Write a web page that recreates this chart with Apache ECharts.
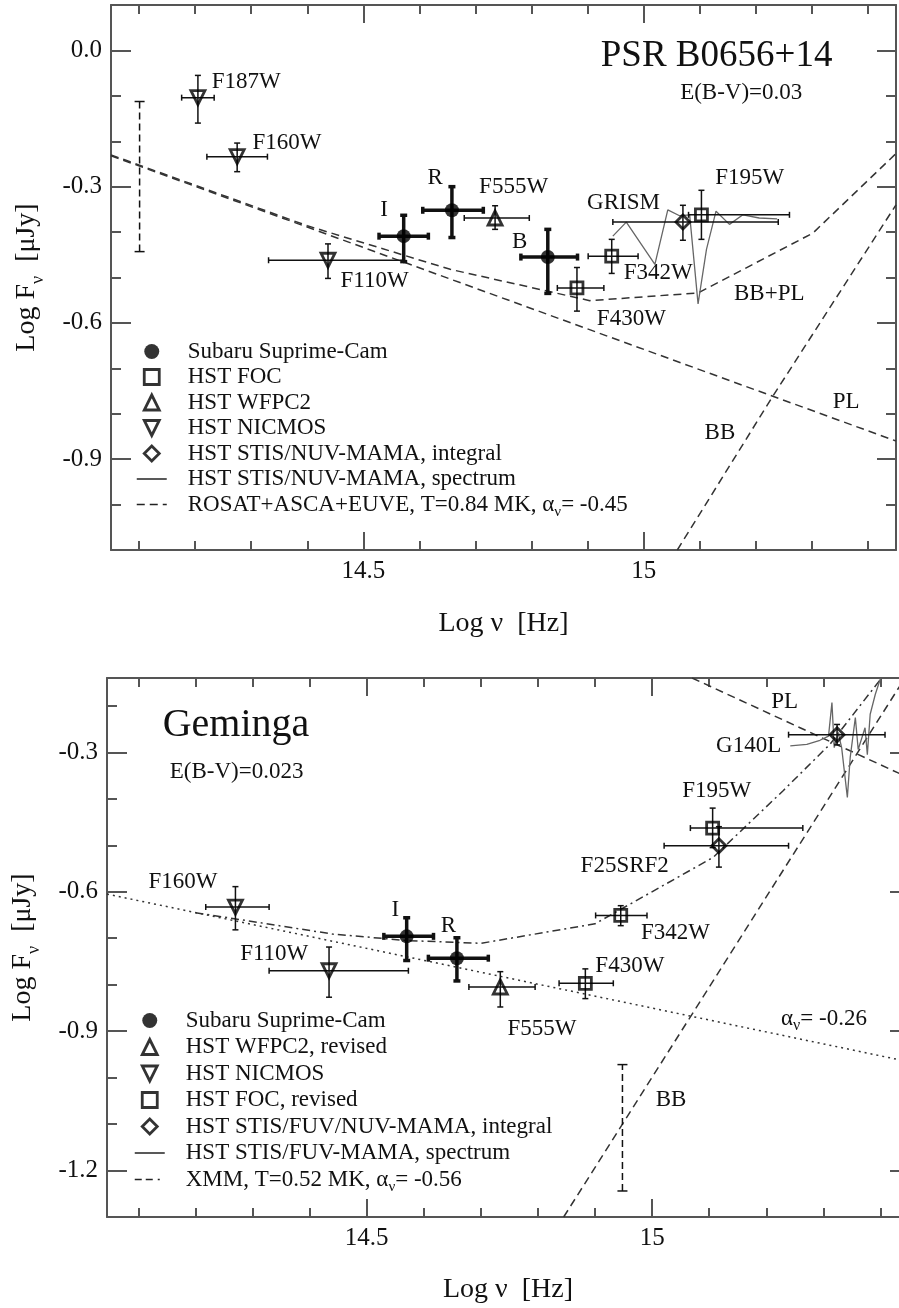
<!DOCTYPE html>
<html><head><meta charset="utf-8">
<script src="https://cdn.jsdelivr.net/npm/echarts@6/dist/echarts.min.js"></script>
<style>html,body{margin:0;padding:0;background:#fff}#c{width:899px;height:1308px}</style>
</head><body><div id="c"></div>
<script>
const FONT = '"Liberation Serif","Times New Roman",serif';

// ---------- axes / ticks ----------
const psrXRange = [14.05, 15.45];
const gemXRange = [14.045, 15.45];
const xMinorTicks = [14.1,14.2,14.3,14.4,14.5,14.6,14.7,14.8,14.9,15.0,15.1,15.2,15.3,15.4];
const xMajorTicks = [14.5, 15.0];
const xTickLabels = ['14.5', '15'];

const psrYRange = [-1.1, 0.1];
const psrYMinor = [-1.0,-0.9,-0.8,-0.7,-0.6,-0.5,-0.4,-0.3,-0.2,-0.1,0.0];
const psrYMajor = [-0.9,-0.6,-0.3,0.0];
const psrYLabels = ['-0.9','-0.6','-0.3','0.0'];

const gemYRange = [-1.3, -0.14];
const gemYMinor = [-1.2,-1.1,-1.0,-0.9,-0.8,-0.7,-0.6,-0.5,-0.4,-0.3,-0.2];
const gemYMajor = [-1.2,-0.9,-0.6,-0.3];
const gemYLabels = ['-1.2','-0.9','-0.6','-0.3'];

// ---------- PSR B0656+14 data: [x, y, xlo, xhi, ylo, yhi] ----------
const psrSubaru = [[14.572,-0.409,14.528,14.616,-0.465,-0.363],
                   [14.658,-0.352,14.606,14.714,-0.412,-0.300],
                   [14.829,-0.455,14.781,14.882,-0.535,-0.394]];
const psrFOC    = [[14.881,-0.523,14.846,14.929,-0.574,-0.478],
                   [14.943,-0.453,14.901,14.990,-0.491,-0.416],
                   [15.103,-0.362,15.080,15.260,-0.416,-0.308]];
const psrWFPC2  = [[14.735,-0.369,14.680,14.796,-0.394,-0.342]];
const psrNICMOS = [[14.205,-0.104,14.176,14.234,-0.160,-0.055],
                   [14.275,-0.234,14.221,14.329,-0.267,-0.204],
                   [14.437,-0.462,14.331,14.572,-0.502,-0.426]];
const psrSTIS   = [[15.070,-0.378,14.945,15.240,-0.418,-0.341]];
const psrSpec   = [[14.945,-0.409],[14.969,-0.378],[15.020,-0.471],[15.043,-0.351],[15.064,-0.364],
                   [15.082,-0.362],[15.097,-0.558],[15.112,-0.438],[15.129,-0.354],[15.153,-0.383],
                   [15.177,-0.362],[15.206,-0.369],[15.238,-0.371]];
const psrPL     = [[14.05,-0.232],[15.45,-0.860]];
const psrBB     = [[15.060,-1.10],[15.230,-0.762],[15.45,-0.340]];
const psrBBPL   = [[14.05,-0.230],[14.40,-0.386],[14.655,-0.482],[14.904,-0.551],[15.097,-0.534],[15.302,-0.402],[15.45,-0.227]];
const psrSysErr = [[14.101,-0.443,-0.1125]];
const psrNotePos  = [[14.291,-0.070],[14.364,-0.204],[14.520,-0.507],[14.537,-0.352],[14.628,-0.281],
                     [14.768,-0.300],[14.964,-0.335],[15.189,-0.280],[14.779,-0.422],[15.026,-0.489],
                     [15.224,-0.537],[14.978,-0.591],[15.361,-0.775],[15.136,-0.842],[15.174,-0.094]];
const psrNoteText = ['F187W','F160W','F110W','I','R','F555W','GRISM','F195W','B','F342W','BB+PL','F430W','PL','BB','E(B-V)=0.03'];
const psrTitlePos  = [[15.130,-0.012]];
const psrTitleText = ['PSR B0656+14'];
const psrLegend = ['Subaru Suprime-Cam','HST FOC','HST WFPC2','HST NICMOS','HST STIS/NUV-MAMA, integral','HST STIS/NUV-MAMA, spectrum','ROSAT+ASCA+EUVE, T=0.84 MK, α_ν= -0.45'];

// ---------- Geminga data ----------
const gemSubaru = [[14.570,-0.696,14.530,14.617,-0.748,-0.656],
                   [14.658,-0.743,14.608,14.713,-0.792,-0.699]];
const gemWFPC2  = [[14.734,-0.805,14.679,14.795,-0.848,-0.772]];
const gemNICMOS = [[14.270,-0.633,14.218,14.329,-0.682,-0.589],
                   [14.434,-0.770,14.329,14.573,-0.827,-0.719]];
const gemFOC    = [[14.883,-0.797,14.837,14.932,-0.830,-0.766],
                   [14.945,-0.651,14.901,14.991,-0.673,-0.630],
                   [15.106,-0.463,15.067,15.264,-0.505,-0.420]];
const gemSTIS   = [[15.117,-0.501,15.021,15.239,-0.547,-0.460],
                   [15.324,-0.262,15.239,15.408,-0.284,-0.240]];
const gemSpec   = [[15.242,-0.286],[15.271,-0.283],[15.294,-0.274],[15.309,-0.265],[15.315,-0.193],
                   [15.319,-0.290],[15.326,-0.258],[15.332,-0.290],[15.342,-0.397],[15.347,-0.311],
                   [15.356,-0.225],[15.361,-0.294],[15.373,-0.247],[15.377,-0.305],[15.382,-0.218],
                   [15.391,-0.175],[15.400,-0.141]];
const gemFit    = [[14.045,-0.605],[15.45,-0.966]];
const gemPL     = [[15.07,-0.14],[15.45,-0.355]];
const gemBB     = [[14.845,-1.30],[15.45,-0.126]];
const gemBBPL   = [[14.20,-0.645],[14.44,-0.691],[14.57,-0.705],[14.70,-0.711],[14.90,-0.669],
                   [15.107,-0.526],[15.23,-0.382],[15.312,-0.282],[15.40,-0.143]];
const gemSysErr = [[14.948,-1.244,-0.972]];
const gemNotePos  = [[14.178,-0.580],[14.550,-0.640],[14.338,-0.734],[14.643,-0.673],[15.232,-0.192],
                     [15.169,-0.286],[15.113,-0.384],[14.952,-0.544],[15.041,-0.689],[14.961,-0.759],
                     [14.807,-0.895],[15.301,-0.873],[15.033,-1.048],[14.272,-0.343]];
const gemNoteText = ['F160W','I','F110W','R','PL','G140L','F195W','F25SRF2','F342W','F430W','F555W','α_ν= -0.26','BB','E(B-V)=0.023'];
const gemTitlePos  = [[14.271,-0.243]];
const gemTitleText = ['Geminga'];
const gemLegend = ['Subaru Suprime-Cam#2','HST WFPC2, revised','HST NICMOS#2','HST FOC, revised','HST STIS/FUV/NUV-MAMA, integral','HST STIS/FUV-MAMA, spectrum','XMM, T=0.52 MK, α_ν= -0.56'];

// ---------- helpers ----------
const AX = '#555';
const ICONS = {
  rect: 'path://M0,0L10,0L10,10L0,10Z',
  triangle: 'path://M5,0L10,10L0,10Z',
  down: 'path://M0,0L10,0L5,10Z',
  diamond: 'path://M5,0L10,5L5,10L0,5Z'
};
function fmtFrom(vals, labels) {
  return v => { const i = vals.findIndex(t => Math.abs(t - v) < 1e-6); return i >= 0 ? labels[i] : ''; };
}
function richAlpha(s) {
  if (s.indexOf('α_ν') < 0) return s;
  const p = s.split('α_ν');
  return '{t|' + p[0] + '}{t|α}{s|ν}{t|' + p[1] + '}';
}
function xAxesFor(g, range, gap) {
  const base = {gridIndex: g, type: 'value', min: range[0], max: range[1], splitLine: {show: false}};
  return [
    Object.assign({}, base, {position: 'bottom',
      axisLine: {show: true, onZero: false, lineStyle: {color: AX, width: 2}},
      axisTick: {show: true, inside: true, length: 18, customValues: xMajorTicks, lineStyle: {color: AX, width: 2}},
      axisLabel: {show: true, customValues: xMajorTicks, formatter: fmtFrom(xMajorTicks, xTickLabels),
                  margin: 9, color: '#111', fontFamily: FONT, fontSize: 25},
      name: 'Log ν  [Hz]', nameLocation: 'middle', nameGap: gap,
      nameTextStyle: {fontFamily: FONT, fontSize: 28, color: '#111'}}),
    Object.assign({}, base, {position: 'bottom', axisLine: {show: false, onZero: false},
      axisTick: {show: true, inside: true, length: 9, customValues: xMinorTicks, lineStyle: {color: AX, width: 2}},
      axisLabel: {show: false}}),
    Object.assign({}, base, {position: 'top',
      axisLine: {show: true, onZero: false, lineStyle: {color: AX, width: 2}},
      axisTick: {show: true, inside: true, length: 18, customValues: xMajorTicks, lineStyle: {color: AX, width: 2}},
      axisLabel: {show: false}}),
    Object.assign({}, base, {position: 'top', axisLine: {show: false, onZero: false},
      axisTick: {show: true, inside: true, length: 9, customValues: xMinorTicks, lineStyle: {color: AX, width: 2}},
      axisLabel: {show: false}})
  ];
}
function yAxesFor(g, range, minor, major, labels) {
  const base = {gridIndex: g, type: 'value', min: range[0], max: range[1], splitLine: {show: false}};
  const rich = {t: {fontFamily: FONT, fontSize: 28, color: '#111'},
                s: {fontFamily: FONT, fontSize: 18, color: '#111', verticalAlign: 'bottom', lineHeight: 40}};
  return [
    Object.assign({}, base, {position: 'left',
      axisLine: {show: true, onZero: false, lineStyle: {color: AX, width: 2}},
      axisTick: {show: true, inside: true, length: 20, customValues: major, lineStyle: {color: AX, width: 2}},
      axisLabel: {show: true, customValues: major, formatter: fmtFrom(major, labels),
                  margin: 9, color: '#111', fontFamily: FONT, fontSize: 25},
      name: '{t|Log F}{s|ν}{t|  [μJy]}', nameLocation: 'middle', nameRotate: 90, nameGap: 64,
      nameTextStyle: {fontFamily: FONT, fontSize: 28, color: '#111', rich: rich}}),
    Object.assign({}, base, {position: 'left', axisLine: {show: false, onZero: false},
      axisTick: {show: true, inside: true, length: 10, customValues: minor, lineStyle: {color: AX, width: 2}},
      axisLabel: {show: false}}),
    Object.assign({}, base, {position: 'right',
      axisLine: {show: true, onZero: false, lineStyle: {color: AX, width: 2}},
      axisTick: {show: true, inside: true, length: 19, customValues: major, lineStyle: {color: AX, width: 2}},
      axisLabel: {show: false}}),
    Object.assign({}, base, {position: 'right', axisLine: {show: false, onZero: false},
      axisTick: {show: true, inside: true, length: 10, customValues: minor, lineStyle: {color: AX, width: 2}},
      axisLabel: {show: false}})
  ];
}
function errSeries(data, ax, lw, cap) {
  return {type: 'custom', xAxisIndex: ax, yAxisIndex: ax, z: 3, silent: true, data: data,
    renderItem: function (params, api) {
      const x = api.value(0), y = api.value(1);
      const l = api.coord([api.value(2), y]), r = api.coord([api.value(3), y]);
      const b = api.coord([x, api.value(4)]), t = api.coord([x, api.value(5)]);
      const st = {stroke: '#111', lineWidth: lw};
      const ln = (x1, y1, x2, y2) => ({type: 'line', shape: {x1, y1, x2, y2}, style: st});
      return {type: 'group', children: [
        ln(l[0], l[1], r[0], r[1]), ln(b[0], b[1], t[0], t[1]),
        ln(l[0], l[1] - cap, l[0], l[1] + cap), ln(r[0], r[1] - cap, r[0], r[1] + cap),
        ln(b[0] - cap, b[1], b[0] + cap, b[1]), ln(t[0] - cap, t[1], t[0] + cap, t[1])
      ]};
    }};
}
function sysSeries(data, ax) {
  return {type: 'custom', xAxisIndex: ax, yAxisIndex: ax, z: 3, silent: true, data: data,
    renderItem: function (params, api) {
      const b = api.coord([api.value(0), api.value(1)]), t = api.coord([api.value(0), api.value(2)]);
      const st = {stroke: '#111', lineWidth: 1.5};
      return {type: 'group', children: [
        {type: 'line', shape: {x1: b[0], y1: b[1], x2: t[0], y2: t[1]}, style: Object.assign({lineDash: [7, 4]}, st)},
        {type: 'line', shape: {x1: b[0] - 5, y1: b[1], x2: b[0] + 5, y2: b[1]}, style: st},
        {type: 'line', shape: {x1: t[0] - 5, y1: t[1], x2: t[0] + 5, y2: t[1]}, style: st}
      ]};
    }};
}
function textSeries(pos, texts, ax, size) {
  return {type: 'custom', xAxisIndex: ax, yAxisIndex: ax, z: 6, silent: true, data: pos,
    renderItem: function (params, api) {
      const p = api.coord([api.value(0), api.value(1)]);
      return {type: 'text', x: p[0], y: p[1], style: {
        text: richAlpha(texts[params.dataIndex]), fontFamily: FONT, fontSize: size, fill: '#111',
        align: 'center', verticalAlign: 'middle',
        rich: {t: {fontFamily: FONT, fontSize: size, fill: '#111'},
               s: {fontFamily: FONT, fontSize: Math.round(size * 0.68), fill: '#111', verticalAlign: 'bottom', lineHeight: size + 8}}}};
    }};
}
const openStyle = {color: 'rgba(255,255,255,0)', borderColor: '#000', borderWidth: 2.8};
function marker(name, data, ax, symbol, size, rot, filled) {
  return {type: 'scatter', name: name, xAxisIndex: ax, yAxisIndex: ax, z: 5, data: data,
    symbol: symbol, symbolSize: size, symbolRotate: rot || 0,
    itemStyle: filled ? {color: '#000', borderColor: '#000', borderWidth: 0} : openStyle,
    emphasis: {disabled: true}};
}
function line(name, data, ax, type, color, width) {
  return {type: 'line', name: name, xAxisIndex: ax, yAxisIndex: ax, z: 2, data: data, symbol: 'none',
    lineStyle: {color: color || '#333', width: width || 1.5, type: type}, silent: true, animation: false};
}
function legendFor(names, left, top, gap, kinds) {
  return {orient: 'vertical', left: left, top: top, padding: 0, itemGap: gap, itemWidth: 30, itemHeight: 15,
    selectedMode: false, symbolKeepAspect: true,
    formatter: n => richAlpha(n.replace('#2', '')),
    textStyle: {fontFamily: FONT, fontSize: 23, color: '#111', padding: [0, 0, 0, 16],
      rich: {t: {fontFamily: FONT, fontSize: 23, color: '#111'},
             s: {fontFamily: FONT, fontSize: 15, color: '#111', verticalAlign: 'bottom', lineHeight: 30}}},
    data: names.map((n, i) => {
      const k = kinds[i];
      if (k === 'circle') return {name: n, icon: 'circle', itemStyle: {color: '#000', borderWidth: 0}};
      if (ICONS[k])
        return {name: n, icon: ICONS[k], symbolKeepAspect: true,
                itemStyle: {color: 'rgba(255,255,255,0)', borderColor: '#000', borderWidth: 2.8}};
      return {name: n, itemStyle: {opacity: 0}, lineStyle: {color: '#222', width: 1.5, type: k}};
    })};
}

// ---------- option ----------
const option = {
  animation: false,
  backgroundColor: '#fff',
  grid: [
    {left: 111, top: 5, width: 785, height: 545, outerBoundsMode: 'none'},
    {left: 107, top: 678, width: 802, height: 539, outerBoundsMode: 'none'}
  ],
  xAxis: [].concat(xAxesFor(0, psrXRange, 60), xAxesFor(1, gemXRange, 59)),
  yAxis: [].concat(yAxesFor(0, psrYRange, psrYMinor, psrYMajor, psrYLabels),
                   yAxesFor(1, gemYRange, gemYMinor, gemYMajor, gemYLabels)),
  legend: [
    legendFor(psrLegend, 136, 340, 2.5, ['circle','rect','triangle','down','diamond','solid',[8,5]]),
    legendFor(gemLegend, 134, 1009, 3.5, ['circle','triangle','down','rect','diamond','solid',[7,4,7,5,2,8]])
  ],
  series: [
    // ---- PSR B0656+14 (axis index 0) ----
    line(psrLegend[6], psrPL, 0, [8, 5]),
    line(psrLegend[6], psrBB, 0, [8, 5]),
    line(psrLegend[6], psrBBPL, 0, [8, 5]),
    line(psrLegend[5], psrSpec, 0, 'solid', '#666', 1.3),
    sysSeries(psrSysErr, 0),
    errSeries(psrNICMOS, 0, 1.5, 3),
    errSeries(psrFOC, 0, 1.5, 3),
    errSeries(psrWFPC2, 0, 1.5, 3),
    errSeries(psrSTIS, 0, 1.5, 3),
    errSeries(psrSubaru, 0, 3.5, 3.5),
    marker(psrLegend[0], psrSubaru, 0, 'circle', 14, 0, true),
    marker(psrLegend[1], psrFOC, 0, 'rect', 12),
    marker(psrLegend[2], psrWFPC2, 0, 'triangle', 14),
    marker(psrLegend[3], psrNICMOS, 0, 'triangle', 14, 180),
    marker(psrLegend[4], psrSTIS, 0, 'diamond', 14),
    textSeries(psrNotePos, psrNoteText, 0, 23),
    textSeries(psrTitlePos, psrTitleText, 0, 37),
    // ---- Geminga (axis index 4) ----
    line('α fit', gemFit, 4, [2, 4]),
    line(gemLegend[6], gemPL, 4, [8, 5]),
    line(gemLegend[6], gemBB, 4, [8, 5]),
    line(gemLegend[6], gemBBPL, 4, [8, 4, 2, 4]),
    line(gemLegend[5], gemSpec, 4, 'solid', '#666', 1.3),
    sysSeries(gemSysErr, 4),
    errSeries(gemNICMOS, 4, 1.5, 3),
    errSeries(gemWFPC2, 4, 1.5, 3),
    errSeries(gemFOC, 4, 1.5, 3),
    errSeries(gemSTIS, 4, 1.5, 3),
    errSeries(gemSubaru, 4, 3.5, 3.5),
    marker(gemLegend[0], gemSubaru, 4, 'circle', 14, 0, true),
    marker(gemLegend[1], gemWFPC2, 4, 'triangle', 14),
    marker(gemLegend[2], gemNICMOS, 4, 'triangle', 14, 180),
    marker(gemLegend[3], gemFOC, 4, 'rect', 12),
    marker(gemLegend[4], gemSTIS, 4, 'diamond', 14),
    textSeries(gemNotePos, gemNoteText, 4, 23),
    textSeries(gemTitlePos, gemTitleText, 4, 40)
  ]
};
const chart = echarts.init(document.getElementById('c'), null, {renderer: 'canvas'});
chart.setOption(option);
</script></body></html>
